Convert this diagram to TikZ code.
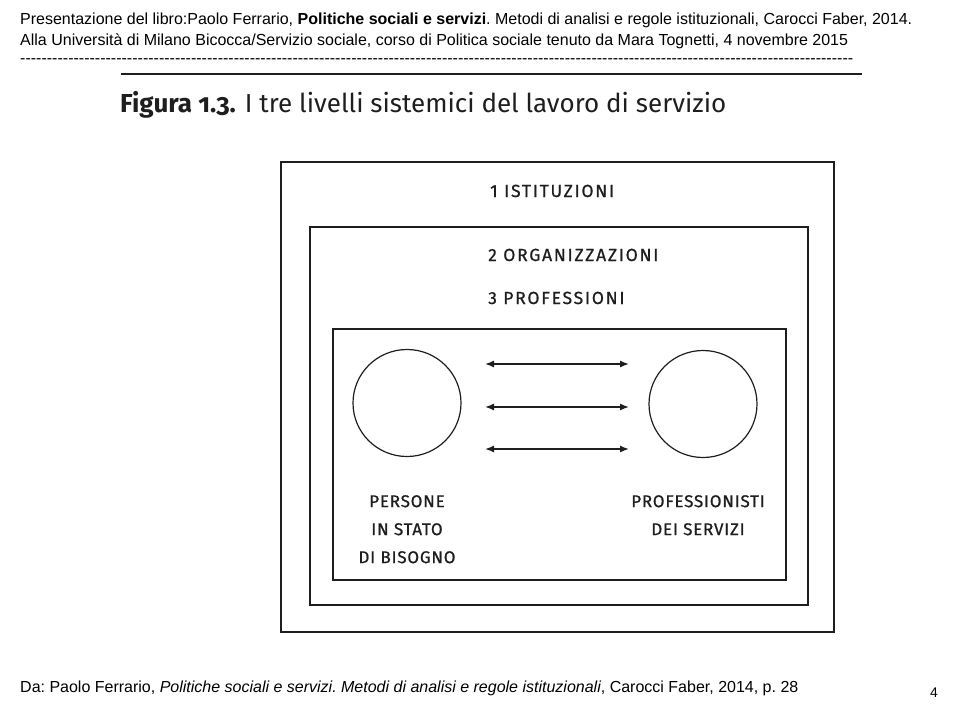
\documentclass[tikz,border=0pt]{standalone}
\usepackage{fontspec}
\setmainfont{Liberation Sans}
\newfontfamily\fira[Numbers=OldStyle]{Fira Sans}
\newfontfamily\firalvl[LetterSpace=10,FakeBold=0.8]{Fira Sans}
\newfontfamily\firasp[LetterSpace=4.5,FakeBold=0.8]{Fira Sans}
\usetikzlibrary{arrows.meta,shapes.geometric}
\definecolor{ink}{HTML}{1E1E1E}
\tikzset{
  hdr/.style={anchor=west,inner sep=0pt,font=\frenchspacing\fontsize{16}{18}\selectfont},
  lvl/.style={anchor=base west,inner sep=0pt,text=ink,font=\firalvl\fontsize{17.5}{20}\selectfont},
  lbl/.style={inner sep=0pt,text=ink,align=center,font=\firasp\fontsize{17}{28}\selectfont},
  frame/.style={draw=ink,line width=1.5pt},
  person/.style={draw=ink,line width=1.2pt,ellipse,minimum width=108pt,minimum height=107pt,inner sep=0pt},
  link/.style={draw=ink,line width=1.4pt,{Latex[length=9pt,width=7pt]}-{Latex[length=9pt,width=7pt]}}
}
\begin{document}
\begin{tikzpicture}[x=1pt,y=-1pt]
\useasboundingbox (0,0) rectangle (960,720);
% header
\node[hdr] (h1) at (20,20) {Presentazione del libro:Paolo Ferrario, \textbf{Politiche sociali e servizi}. Metodi di analisi e regole istituzionali, Carocci Faber, 2014.};
\node[hdr] (h2) at (20,41) {Alla Universit\`a di Milano Bicocca/Servizio sociale, corso di Politica sociale tenuto da Mara Tognetti, 4 novembre 2015};
\node[hdr] (h3) at (20,61) {\hbox to 833pt{\xleaders\hbox{-}\hfill}};
% rule and title
\coordinate (r1) at (121,74);
\coordinate (r2) at (862,74);
\draw[ink,line width=2pt] (r1) -- (r2);
\node[anchor=base west,inner sep=0pt,text=ink,font=\fira\fontsize{26}{30}\selectfont] (title) at (120,112) {\textbf{Figura 1.3.}\hspace{9pt}I tre livelli sistemici del lavoro di servizio};
% frames
\node[frame,inner sep=0pt,minimum width=553pt,minimum height=470pt] (outer) at (557.5,397) {};
\node[frame,inner sep=0pt,minimum width=498pt,minimum height=378pt] (middle) at (559,416) {};
\node[frame,inner sep=0pt,minimum width=453pt,minimum height=251pt] (inner) at (559.5,454.5) {};
\node[lvl] (l1) at (490,197) {1 ISTITUZIONI};
\node[lvl] (l2) at (488,261) {2 ORGANIZZAZIONI};
\node[lvl] (l3) at (488,304) {3 PROFESSIONI};
% circles
\node[person] (pa) at (407,403) {};
\node[person] (pb) at (703,404) {};
% arrows
\coordinate (a1l) at (485,364); \coordinate (a1r) at (629,364);
\coordinate (a2l) at (485,407); \coordinate (a2r) at (629,407);
\coordinate (a3l) at (485,449); \coordinate (a3r) at (629,449);
\draw[link] (a1l) -- (a1r);
\draw[link] (a2l) -- (a2r);
\draw[link] (a3l) -- (a3r);
% labels
\node[lbl,anchor=north] (ta) at (407,495) {PERSONE\\IN STATO\\DI BISOGNO};
\node[lbl,anchor=north] (tb) at (698,495) {PROFESSIONISTI\\DEI SERVIZI};
% footer
\node[hdr] (foot) at (20,688) {Da: Paolo Ferrario, \textit{Politiche sociali e servizi. Metodi di analisi e regole istituzionali}, Carocci Faber, 2014, p. 28};
\node[inner sep=0pt,font=\fontsize{14}{16}\selectfont] (pg) at (934,693) {4};
\end{tikzpicture}
\end{document}
